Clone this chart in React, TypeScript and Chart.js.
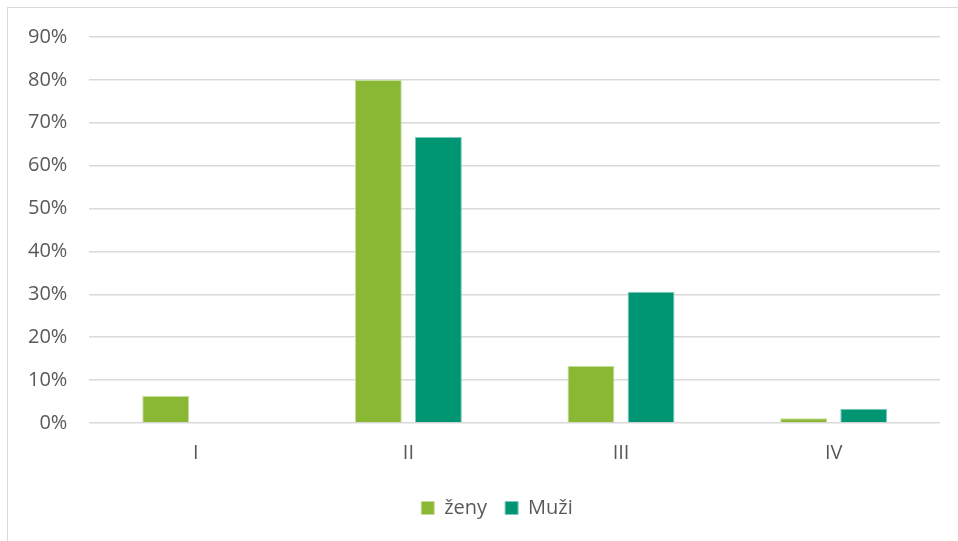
import React, { useEffect, useRef } from "react";
import { Chart, registerables } from "chart.js";

Chart.register(...registerables);

const categories = ["I", "II", "III", "IV"];
const zenyValues = [6.3, 80.0, 13.3, 1.1];
const muziValues = [0, 66.7, 30.6, 3.3];
const seriesNames = ["ženy", "Muži"];

const FONT = "'Open Sans', sans-serif";

const legendShift = {
  id: "legendShift",
  afterLayout(chart: any) {
    if (chart.legend) {
      chart.legend.left += 24;
      chart.legend.right += 24;
      chart.legend.top -= 3;
      chart.legend.bottom -= 3;
    }
  },
};

export default function App() {
  const canvasRef = useRef<HTMLCanvasElement | null>(null);

  useEffect(() => {
    document.body.style.margin = "0";
    document.body.style.overflow = "hidden";
    const ctx = canvasRef.current!;
    const chart = new Chart(ctx, {
      type: "bar",
      data: {
        labels: categories,
        datasets: [
          {
            label: seriesNames[0],
            data: zenyValues,
            backgroundColor: "#8bb834",
            borderColor: "#c5de9a",
            borderWidth: 1,
            barPercentage: 0.78,
            categoryPercentage: 0.565,
          },
          {
            label: seriesNames[1],
            data: muziValues,
            backgroundColor: "#009673",
            borderColor: "#7fcab8",
            borderWidth: 1,
            barPercentage: 0.78,
            categoryPercentage: 0.565,
          },
        ],
      },
      plugins: [legendShift],
      options: {
        animation: false,
        responsive: false,
        maintainAspectRatio: false,
        layout: { padding: { left: 6, right: 18, top: 37, bottom: 10 } },
        plugins: {
          tooltip: { enabled: false },
          legend: {
            position: "bottom",
            labels: {
              boxWidth: 13,
              boxHeight: 13,
              padding: 18,
              color: "#595959",
              font: { family: FONT, size: 20 },
            },
          },
        },
        scales: {
          x: {
            grid: { display: false, drawTicks: false },
            border: { display: false },
            ticks: {
              color: "#595959",
              font: { family: FONT, size: 20 },
              padding: 18,
            },
          },
          y: {
            min: 0,
            max: 90,
            grid: { color: "#d9d9d9", lineWidth: 1.5, drawTicks: false },
            border: { display: false },
            ticks: {
              stepSize: 10,
              color: "#595959",
              font: { family: FONT, size: 20 },
              padding: 22,
              callback: (v: any) => v + "%",
            },
          },
        },
      },
    });
    return () => chart.destroy();
  }, []);

  return (
    <div style={{ position: "relative", width: 958, height: 541, background: "#fff" }}>
      <div
        style={{
          position: "absolute",
          left: 7,
          top: 7,
          width: 951,
          height: 534,
          borderLeft: "1px solid #d9d9d9",
          borderTop: "1px solid #d9d9d9",
          boxSizing: "border-box",
        }}
      />
      <canvas
        ref={canvasRef}
        width={958}
        height={541}
        style={{ position: "absolute", left: 0, top: 0, width: 958, height: 541 }}
      />
    </div>
  );
}
